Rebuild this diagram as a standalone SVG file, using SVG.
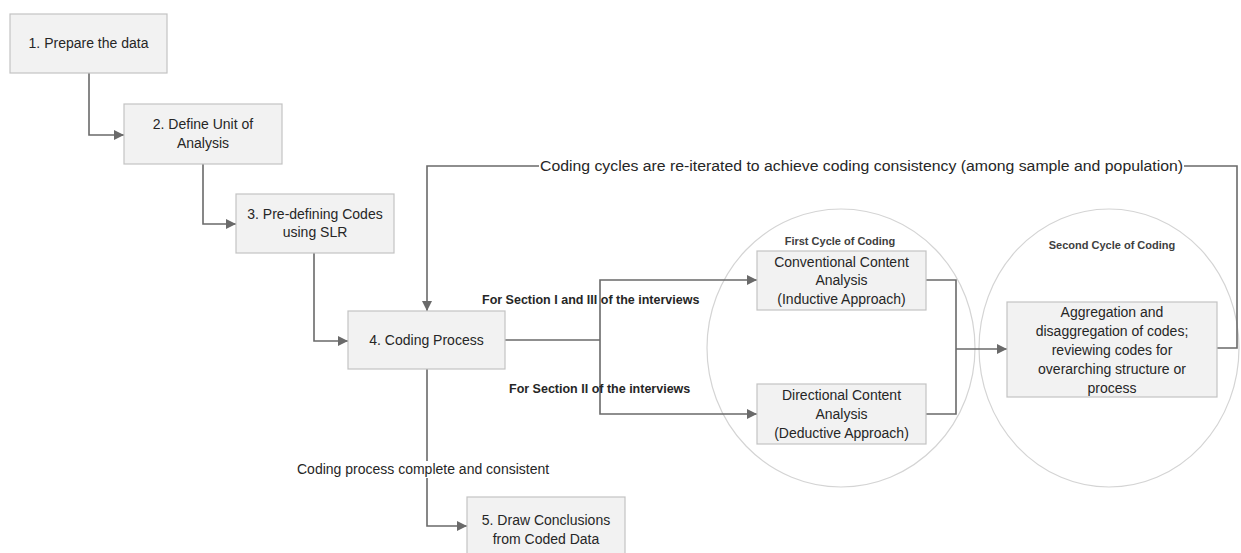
<svg xmlns="http://www.w3.org/2000/svg" width="1241" height="553" viewBox="0 0 1241 553">
  <defs>
    <marker id="arrow" viewBox="0 0 10 10" refX="10" refY="5" markerWidth="10" markerHeight="10" markerUnits="userSpaceOnUse" orient="auto">
      <path d="M0,0 L10,5 L0,10 z" fill="#6a6a6a"/>
    </marker>
    <style>
      .box { fill: #f2f2f2; stroke: #c3c3c3; stroke-width: 1.2; }
      .cycle { fill: none; stroke: #d4d4d4; stroke-width: 1.2; }
      .txt { font-family: "Liberation Sans", Arial, sans-serif; font-size: 14px; fill: #262626; text-anchor: middle; }
      .lbl { font-family: "Liberation Sans", Arial, sans-serif; font-size: 14px; fill: #262626; }
      .bold { font-family: "Liberation Sans", Arial, sans-serif; font-size: 12.5px; font-weight: bold; fill: #262626; }
      .title { font-family: "Liberation Sans", Arial, sans-serif; font-size: 11px; font-weight: bold; fill: #404040; text-anchor: middle; }
      .wire { fill: none; stroke: #6a6a6a; stroke-width: 1.6; }
    </style>
  </defs>
  <rect width="1241" height="553" fill="#ffffff"/>

  <!-- coding cycle outlines -->
  <g id="first-cycle">
    <ellipse class="cycle" cx="841" cy="348" rx="134" ry="139"/>
    <text class="title" x="840" y="245">First Cycle of Coding</text>
  </g>
  <g id="second-cycle">
    <ellipse class="cycle" cx="1109" cy="348" rx="130" ry="139"/>
    <text class="title" x="1112" y="249">Second Cycle of Coding</text>
  </g>

  <!-- connectors -->
  <g id="connectors">
    <path class="wire" d="M89,73 V135 H124" marker-end="url(#arrow)"/>
    <path class="wire" d="M203,164 V224 H236" marker-end="url(#arrow)"/>
    <path class="wire" d="M314,253 V341 H348" marker-end="url(#arrow)"/>
    <path class="wire" d="M505,340 H600"/>
    <path class="wire" d="M600,340 V280 H757" marker-end="url(#arrow)"/>
    <path class="wire" d="M600,340 V414 H757" marker-end="url(#arrow)"/>
    <path class="wire" d="M926,280 H956 V414 H926"/>
    <path class="wire" d="M956,349 H1007" marker-end="url(#arrow)"/>
    <path class="wire" d="M1217,348 H1237 V166 H427 V311" marker-end="url(#arrow)"/>
    <path class="wire" d="M427,369 V526 H467" marker-end="url(#arrow)"/>
    <rect x="539" y="156" width="645" height="20" fill="#ffffff"/>
    <text class="lbl" x="540" y="171" textLength="643" lengthAdjust="spacingAndGlyphs">Coding cycles are re-iterated to achieve coding consistency (among sample and population)</text>
    <rect x="295" y="461" width="260" height="17" fill="#ffffff"/>
    <text class="lbl" x="297" y="474">Coding process complete and consistent</text>
    <text class="bold" x="482" y="304">For Section I and III of the interviews</text>
    <text class="bold" x="509" y="393">For Section II of the interviews</text>
  </g>

  <!-- process steps -->
  <g id="step1">
    <rect class="box" x="10" y="14" width="157" height="59"/>
    <text class="txt" x="88.5" y="48">1. Prepare the data</text>
  </g>
  <g id="step2">
    <rect class="box" x="124" y="104" width="158" height="60"/>
    <text class="txt" x="203" y="129">2. Define Unit of</text>
    <text class="txt" x="203" y="148">Analysis</text>
  </g>
  <g id="step3">
    <rect class="box" x="236" y="194" width="158" height="59"/>
    <text class="txt" x="315" y="219">3. Pre-defining Codes</text>
    <text class="txt" x="315" y="237">using SLR</text>
  </g>
  <g id="step4">
    <rect class="box" x="348" y="311" width="157" height="58"/>
    <text class="txt" x="426.5" y="345">4. Coding Process</text>
  </g>
  <g id="conventional">
    <rect class="box" x="757" y="251" width="169" height="59"/>
    <text class="txt" x="841.5" y="267">Conventional Content</text>
    <text class="txt" x="841.5" y="285">Analysis</text>
    <text class="txt" x="841.5" y="304">(Inductive Approach)</text>
  </g>
  <g id="directional">
    <rect class="box" x="757" y="384" width="169" height="60"/>
    <text class="txt" x="841.5" y="400">Directional Content</text>
    <text class="txt" x="841.5" y="419">Analysis</text>
    <text class="txt" x="841.5" y="438">(Deductive Approach)</text>
  </g>
  <g id="aggregation">
    <rect class="box" x="1007" y="302" width="210" height="95"/>
    <text class="txt" x="1112" y="317">Aggregation and</text>
    <text class="txt" x="1112" y="336">disaggregation of codes;</text>
    <text class="txt" x="1112" y="355">reviewing codes for</text>
    <text class="txt" x="1112" y="374">overarching structure or</text>
    <text class="txt" x="1112" y="393">process</text>
  </g>
  <g id="step5">
    <rect class="box" x="467" y="497" width="158" height="58"/>
    <text class="txt" x="546" y="525">5. Draw Conclusions</text>
    <text class="txt" x="546" y="544">from Coded Data</text>
  </g>
</svg>
